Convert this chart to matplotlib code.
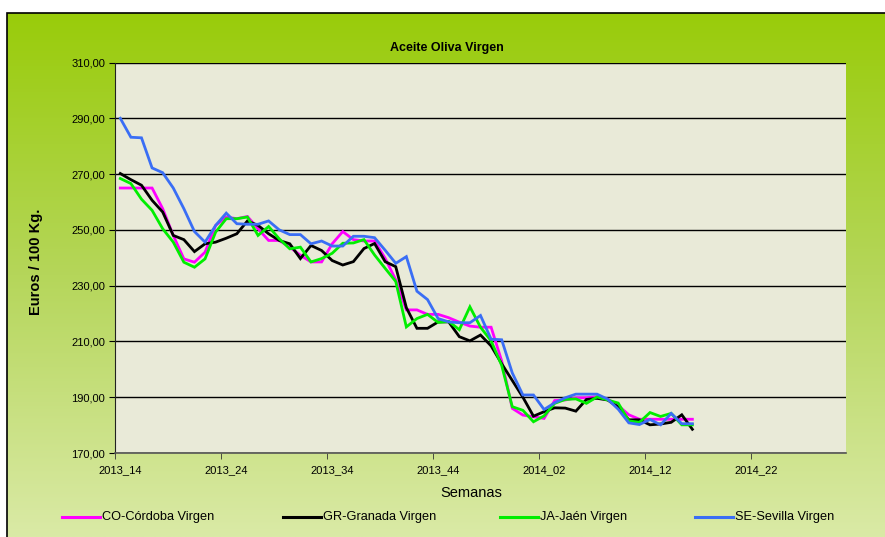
import numpy as np
import matplotlib
matplotlib.use("Agg")
import matplotlib.pyplot as plt
from matplotlib.lines import Line2D
from matplotlib.patches import Rectangle

plt.rcParams['font.family'] = ['Liberation Sans', 'DejaVu Sans']

# ---- data ----
def week_labels(start_year, start_week, n):
    labs = []
    y, w = start_year, start_week
    for _ in range(n):
        labs.append(f"{y}_{w:02d}")
        w += 1
        if w > 52:
            w = 1
            y += 1
    return labs

n_categories = 69
weeks = week_labels(2013, 14, n_categories)
tick_labels = ["2013_14", "2013_24", "2013_34", "2013_44", "2014_02", "2014_12", "2014_22"]

cordoba = [265, 265, 265, 265, 257.6, 248, 239.6, 238.4, 242, 251.6,
           254.6, 254, 254.8, 250.4, 246.2, 246.2, 243.8, 240.9, 238.5, 238.5,
           245, 249.4, 246.5, 246, 246, 239.8, 232.1, 221.3, 221.3, 219.7,
           219.7, 218.5, 216.9, 215.5, 215.1, 215.1, 203, 186, 183.6, 183,
           182.4, 188.8, 189, 189.8, 189.8, 190.2, 189.3, 187, 183.7, 182.1,
           182.1, 182.1, 182.1, 182.1, 182.1]
granada = [270.2, 268, 266, 260.6, 256.4, 248, 246.5, 242.2, 245, 245.6,
           247, 248.6, 253.2, 251.6, 248.6, 246.2, 245, 239.7, 244.4, 242.6,
           239, 237.4, 238.6, 243.3, 245.1, 238.6, 236.8, 222.1, 214.7, 214.7,
           217, 217, 211.7, 210.2, 212.3, 208.4, 202, 196, 190, 183.2,
           184.8, 186.2, 186.1, 185, 189.2, 189.6, 189, 186.5, 181.9, 181.9,
           180.1, 180.4, 181, 183.7, 178.5]
jaen = [268.4, 266.6, 261, 257, 250.4, 245.6, 238.4, 236.6, 239.6, 249.2,
        254, 254, 254.6, 248, 251.2, 246.8, 243.2, 243.8, 238.5, 239.7,
        241.6, 245.2, 245.3, 246.5, 241, 236.2, 231.5, 215.2, 218.2, 219.7,
        216.8, 217.2, 214.2, 222.4, 215.1, 210.2, 201.4, 186.6, 185.3, 181.2,
        183.3, 187.8, 189.2, 189.4, 187.8, 190.1, 189, 187.9, 181.5, 181,
        184.5, 183.1, 184.2, 180.1, 180.1]
sevilla = [290, 283.2, 283, 272.2, 270.5, 265, 257.6, 249.4, 245.6, 251.6,
           256, 252.2, 252, 252, 253.2, 250, 248.3, 248.3, 245, 246,
           244.2, 244.2, 247.7, 247.7, 247.2, 242.7, 238, 240.4, 228, 225,
           218.2, 217, 216.7, 216.7, 219.3, 210.8, 210.6, 198.7, 190.8, 190.8,
           185.6, 188, 189.8, 191.1, 191.1, 191.1, 189.3, 185.7, 180.8, 180.2,
           182, 180.1, 184.2, 180.5, 180.5]

series_names = ["CO-Córdoba Virgen", "GR-Granada Virgen", "JA-Jaén Virgen", "SE-Sevilla Virgen"]
series_values = [cordoba, granada, jaen, sevilla]
series_colors = ["#FF00FF", "#000000", "#00EE00", "#3A6EF5"]

y_ticks = [170, 190, 210, 230, 250, 270, 290, 310]

# ---- figure ----
W, H = 885, 537
fig = plt.figure(figsize=(W / 100, H / 100), dpi=100)
fig.patch.set_facecolor("white")

# chart-area gradient background
bg = fig.add_axes([7 / W, 0, 1 - 7 / W, 1 - 13 / H])
bg.set_zorder(-10)
top = np.array([0x99, 0xCC, 0x0A]) / 255.0
mid = np.array([0xB5, 0xD6, 0x5A]) / 255.0
bot = np.array([0xDA, 0xEA, 0xA6]) / 255.0
t = np.linspace(0, 1, 256)[:, None]
grad = np.where(t < 0.5, top + (mid - top) * (t / 0.5), mid + (bot - mid) * ((t - 0.5) / 0.5))
grad = np.clip(grad, 0, 1)[:, None, :].repeat(2, axis=1)
bg.imshow(grad, aspect="auto", extent=[0, 1, 0, 1], origin="upper")
bg.set_xlim(0, 1)
bg.set_ylim(0, 1)
bg.axis("off")
fig.add_artist(Rectangle((7 / W, -0.01), 1 - 7 / W + 0.01, 1 - 13 / H + 0.01,
                         transform=fig.transFigure, fill=False, edgecolor="black", lw=1.2, zorder=5))

# plot area
left, right = 115 / W, 846 / W
bottom, topf = 1 - 453 / H, 1 - 62.5 / H
ax = fig.add_axes([left, bottom, right - left, topf - bottom])
ax.set_facecolor("#E9EAD8")

x = np.arange(len(cordoba))
for name, vals, col in zip(series_names, series_values, series_colors):
    ax.plot(x, vals, color=col, lw=2.0, label=name, solid_joinstyle="miter", zorder=3)

ax.set_xlim(-0.5, n_categories - 0.5)
ax.set_ylim(170, 310)
ax.set_yticks(y_ticks)
ax.set_yticklabels([f"{v:.2f}".replace(".", ",") for v in y_ticks], fontsize=8)
ax.yaxis.grid(True, color="black", lw=1.0, zorder=1)
ax.set_axisbelow(True)

tick_pos = [weeks.index(l) for l in tick_labels]
ax.set_xticks(tick_pos)
ax.set_xticklabels(tick_labels, fontsize=8)
ax.tick_params(axis="x", which="major", length=0, pad=9)
ax.set_xticks([p - 0.5 for p in tick_pos], minor=True)
ax.tick_params(axis="x", which="minor", length=4, direction="out", color="#333333")
ax.tick_params(axis="y", length=4, direction="out", pad=3)

for s in ["top", "right"]:
    ax.spines[s].set_visible(False)
ax.spines["left"].set_color("#222222")
ax.spines["bottom"].set_color("#555555")
ax.spines["bottom"].set_linewidth(1.2)

title = fig.text(447 / W, 1 - 48 / H, "Aceite Oliva Virgen", ha="center", va="center",
                 fontsize=9, fontweight="bold")
fig.text(36 / W, 1 - 262 / H, "Euros / 100 Kg.", ha="center", va="center",
         rotation=90, fontsize=10.5, fontweight="bold")
fig.text(471 / W, 1 - 493 / H, "Semanas", ha="center", va="center", fontsize=10.5)

# legend
leg_y = 1 - 517 / H
leg_x = [62, 283, 500, 695]
for lx, name, col in zip(leg_x, series_names, series_colors):
    fig.add_artist(Line2D([lx / W, (lx + 38) / W], [leg_y, leg_y], color=col, lw=2.2,
                          transform=fig.transFigure))
    fig.text((lx + 40) / W, leg_y, name, ha="left", va="center", fontsize=9.2)

fig.savefig("out.png", dpi=100)
